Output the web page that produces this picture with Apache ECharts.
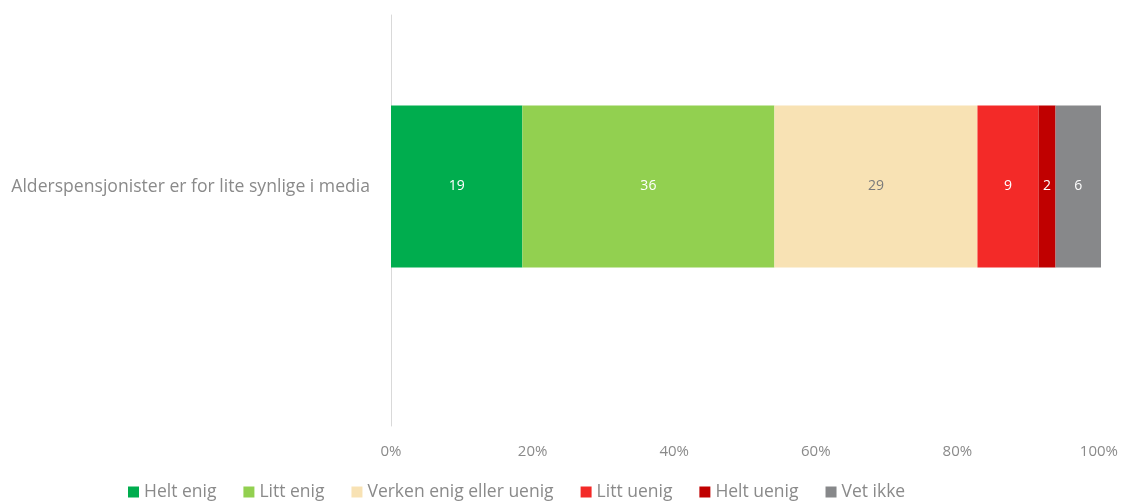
<!DOCTYPE html>
<html>
<head>
<meta charset="utf-8">
<script src="https://cdn.jsdelivr.net/npm/echarts@6/dist/echarts.min.js"></script>
<style>
  html, body { margin: 0; padding: 0; background: #fff; }
  #chart { width: 1121px; height: 501px; }
</style>
</head>
<body>
<div id="chart"></div>
<script>
// kategori og svarfordeling (prosent)
var categories = ['Alderspensjonister er for lite synlige i media'];
var seriesNames = ['Helt enig', 'Litt enig', 'Verken enig eller uenig', 'Litt uenig', 'Helt uenig', 'Vet ikke'];
var heltEnig = [18.5];
var littEnig = [35.5];
var verken = [28.6];
var littUenig = [8.6];
var heltUenig = [2.4];
var vetIkke = [6.4];
var xTicks = [0, 20, 40, 60, 80, 100];

var colors = ['#00AD4E', '#92D050', '#F8E2B4', '#F32A28', '#C00000', '#87888A'];
var labelColors = ['#fff', '#fff', '#7a7a7a', '#fff', '#fff', '#fff'];
var values = [heltEnig, littEnig, verken, littUenig, heltUenig, vetIkke];
var font = 'Open Sans';

var myChart = echarts.init(document.getElementById('chart'));

var series = seriesNames.map(function (name, i) {
	return {
		name: name,
		type: 'bar',
		stack: 'total',
		barWidth: 162,
		xAxisIndex: 1,
		yAxisIndex: 1,
		data: values[i],
		itemStyle: { color: colors[i] },
		label: {
			show: true,
			position: 'inside',
			color: labelColors[i],
			fontSize: 14,
			fontFamily: font,
			formatter: function (p) {
				return Math.round(p.value);
			}
		}
	};
});

var option = {
	animation: false,
	color: colors,
	// grid 0: akselinje og prosentetiketter, grid 1: selve stolpen
	grid: [
		{ left: 391, right: 20, top: 15, bottom: 75 },
		{ left: 391, right: 20, top: 15, bottom: 143 }
	],
	legend: {
		top: 478,
		left: 123,
		itemWidth: 11,
		itemHeight: 11,
		itemGap: 27,
		icon: 'rect',
		textStyle: { color: '#8a8a8a', fontSize: 17.5, fontFamily: font },
		data: seriesNames
	},
	xAxis: [{
		gridIndex: 0,
		type: 'value',
		min: 0,
		max: 100,
		interval: 20,
		axisLine: { show: false },
		axisTick: { show: false },
		splitLine: { show: false },
		axisLabel: {
			color: '#8a8a8a',
			fontSize: 15,
			fontFamily: font,
			margin: 18,
			formatter: function (v) {
				return xTicks.indexOf(v) >= 0 ? v + '%' : '';
			}
		}
	}, {
		gridIndex: 1,
		type: 'value',
		min: 0,
		max: 100,
		show: false,
		splitLine: { show: false }
	}],
	yAxis: [{
		gridIndex: 0,
		type: 'category',
		data: [''],
		axisLine: { show: true, lineStyle: { color: '#d9d9d9', width: 1 } },
		axisTick: { show: false },
		axisLabel: { show: false }
	}, {
		gridIndex: 1,
		type: 'category',
		data: categories,
		axisLine: { show: false },
		axisTick: { show: false },
		axisLabel: {
			color: '#8a8a8a',
			fontSize: 17.6,
			fontFamily: font,
			margin: 21
		}
	}],
	series: series
};

myChart.setOption(option);
window.addEventListener('resize', function () {
	myChart.resize();
});
</script>
</body>
</html>
